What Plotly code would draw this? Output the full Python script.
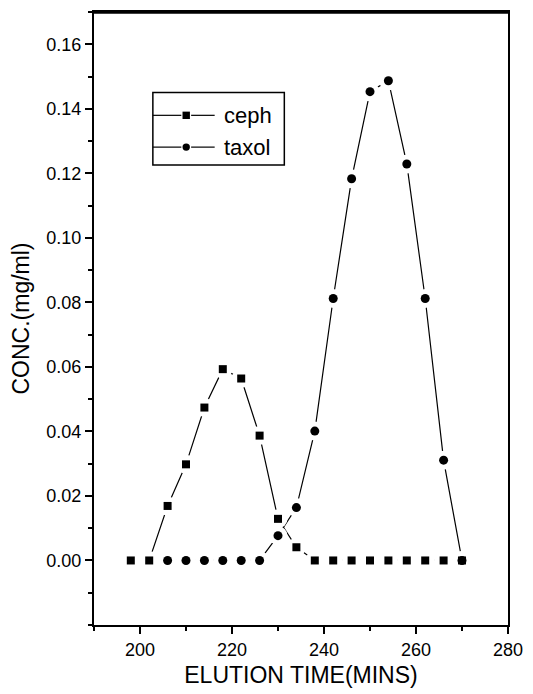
import plotly.graph_objects as go

# ---------------- data ----------------
ceph_time = [198, 202, 206, 210, 214, 218, 222, 226, 230, 234,
             238, 242, 246, 250, 254, 258, 262, 266, 270]
ceph_conc = [0.0, 0.0, 0.0169, 0.0298, 0.0474, 0.0593, 0.0564, 0.0387, 0.0129, 0.0041,
             0.0, 0.0, 0.0, 0.0, 0.0, 0.0, 0.0, 0.0, 0.0]

taxol_time = [206, 210, 214, 218, 222, 226, 230, 234, 238, 242,
              246, 250, 254, 258, 262, 266, 270]
taxol_conc = [0.0, 0.0, 0.0, 0.0, 0.0, 0.0, 0.0077, 0.0164, 0.0401, 0.0812,
              0.1183, 0.1453, 0.1487, 0.1229, 0.0812, 0.0311, 0.0]

x_ticks = [200, 220, 240, 260, 280]
y_ticks = [0.00, 0.02, 0.04, 0.06, 0.08, 0.10, 0.12, 0.14, 0.16]
series_names = ["ceph", "taxol"]

# ---------------- layout geometry ----------------
W, H = 533, 694
ML, MR, MT, MB = 94, 17, 10, 67
PW = W - ML - MR
PH = H - MT - MB
FONT = "Liberation Sans, Arial, Helvetica, sans-serif"


def px_x(px):
    return (px - ML) / PW


def px_y(py):
    return (H - MB - py) / PH


fig = go.Figure()

# connecting lines
for t, c in [(ceph_time, ceph_conc), (taxol_time, taxol_conc)]:
    fig.add_trace(go.Scatter(x=t, y=c, mode="lines", showlegend=False,
                             line=dict(color="black", width=1.2), hoverinfo="skip"))
# white halos giving the line-to-symbol gap
for t, c in [(ceph_time, ceph_conc), (taxol_time, taxol_conc)]:
    fig.add_trace(go.Scatter(x=t, y=c, mode="markers", showlegend=False,
                             marker=dict(symbol="circle", size=19, color="white",
                                         line=dict(width=0)),
                             hoverinfo="skip"))
# symbols
fig.add_trace(go.Scatter(x=ceph_time, y=ceph_conc, mode="markers", name=series_names[0],
                         showlegend=False,
                         marker=dict(symbol="square", size=8, color="black",
                                     line=dict(width=0))))
fig.add_trace(go.Scatter(x=taxol_time, y=taxol_conc, mode="markers", name=series_names[1],
                         showlegend=False,
                         marker=dict(symbol="circle", size=9, color="black",
                                     line=dict(width=0))))

# ---------------- custom legend ----------------
shapes = []
annotations = []
# heavier top frame edge
shapes.append(dict(type="line", xref="paper", yref="paper", x0=0, x1=1, y0=1, y1=1,
                   line=dict(color="black", width=3.5), layer="above"))
shapes.append(dict(type="rect", xref="paper", yref="paper",
                   x0=px_x(154), x1=px_x(288), y0=px_y(164), y1=px_y(91),
                   line=dict(color="black", width=1.5), fillcolor="white", layer="above"))
legend_rows = [(series_names[0], 114, "rect"), (series_names[1], 146, "circle")]
for name, py, shp in legend_rows:
    for a, b in [(154, 183), (193, 217)]:
        shapes.append(dict(type="line", xref="paper", yref="paper",
                           x0=px_x(a), x1=px_x(b), y0=px_y(py), y1=px_y(py),
                           line=dict(color="black", width=1.2), layer="above"))
    shapes.append(dict(type=shp, xref="paper", yref="paper",
                       xsizemode="pixel", ysizemode="pixel",
                       xanchor=px_x(188), yanchor=px_y(py),
                       x0=-3.7, x1=3.7, y0=-3.7, y1=3.7,
                       fillcolor="black", line=dict(width=0), layer="above"))
    annotations.append(dict(text=name, xref="paper", yref="paper",
                            x=px_x(224), y=px_y(py), xanchor="left", yanchor="middle",
                            showarrow=False, font=dict(family=FONT, size=22, color="black")))

axis_common = dict(showline=True, linecolor="black", linewidth=2, mirror=True,
                   ticks="outside", tickcolor="black", tickwidth=1.5, ticklen=7,
                   showgrid=False, zeroline=False,
                   tickfont=dict(family=FONT, size=18, color="black"))

fig.update_layout(
    width=W, height=H, autosize=False,
    margin=dict(l=ML, r=MR, t=MT, b=MB),
    paper_bgcolor="white", plot_bgcolor="white",
    showlegend=False,
    shapes=shapes, annotations=annotations,
    xaxis=dict(range=[190, 280], tickmode="array", tickvals=x_ticks,
               minor=dict(tickmode="linear", tick0=0, dtick=10, ticks="outside",
                          ticklen=4, tickwidth=1.5, tickcolor="black"),
               title=dict(text="ELUTION TIME(MINS)", standoff=8,
                          font=dict(family=FONT, size=23, color="black")),
               **axis_common),
    yaxis=dict(range=[-0.02, 0.17], tickmode="array", tickvals=y_ticks, tickformat=".2f",
               minor=dict(tickmode="linear", tick0=0, dtick=0.01, ticks="outside",
                          ticklen=4, tickwidth=1.5, tickcolor="black"),
               title=dict(text="CONC.(mg/ml)", standoff=10,
                          font=dict(family=FONT, size=23, color="black")),
               **axis_common),
)

fig.write_html("out.html")
